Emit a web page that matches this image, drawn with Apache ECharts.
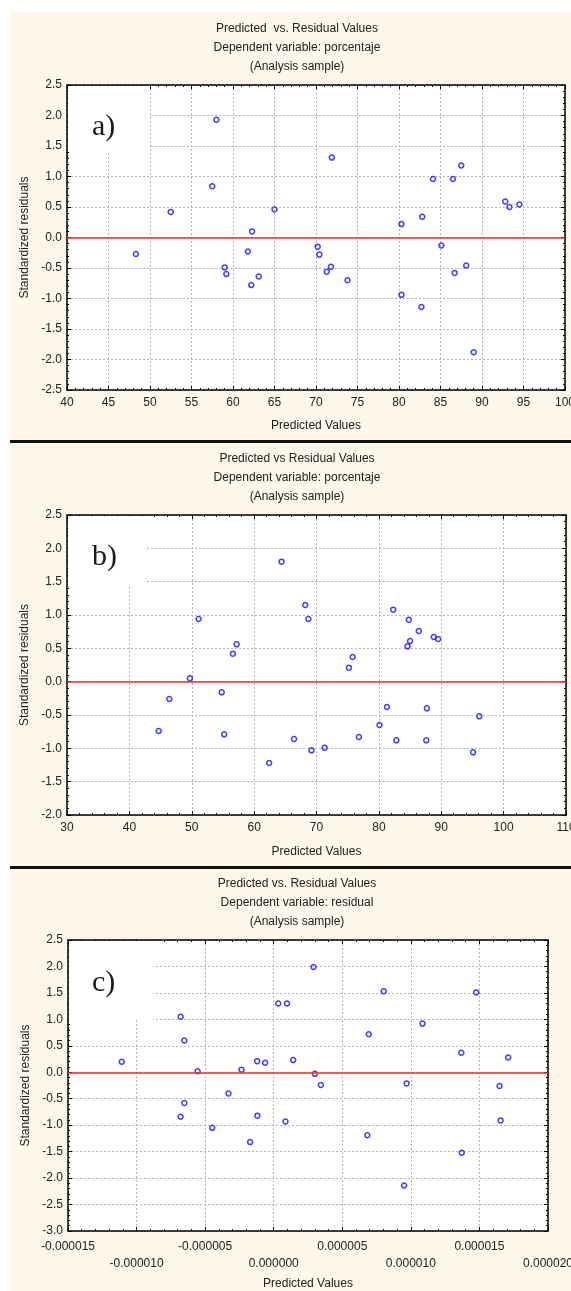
<!DOCTYPE html>
<html>
<head>
<meta charset="utf-8">
<script src="https://cdn.jsdelivr.net/npm/echarts@6/dist/echarts.min.js"></script>
<style>
html, body { margin: 0; padding: 0; background: #fff; }
#main { width: 571px; height: 1291px; }
</style>
</head>
<body>
<div id="main"></div>
<script>
// panel a) predicted vs standardized residuals
let predA = [48.3, 52.5, 57.5, 58.0, 59.0, 59.2, 61.8, 62.2, 62.3, 63.1, 65.0, 70.2, 70.4, 71.3, 71.8, 71.9, 73.8, 80.3, 80.3, 82.7, 82.8, 84.1, 85.1, 86.5, 86.7, 87.5, 88.1, 89.0, 92.8, 93.3, 94.5];
let residA = [-0.27, 0.42, 0.84, 1.93, -0.49, -0.60, -0.23, -0.78, 0.10, -0.64, 0.46, -0.15, -0.28, -0.56, -0.48, 1.31, -0.70, 0.22, -0.94, -1.14, 0.34, 0.96, -0.13, 0.96, -0.58, 1.18, -0.46, -1.88, 0.59, 0.50, 0.54];

// panel b)
let predB = [44.7, 46.4, 49.7, 51.1, 54.8, 55.2, 56.6, 57.2, 62.4, 64.4, 66.4, 68.2, 68.7, 69.2, 71.3, 75.2, 75.8, 76.8, 80.1, 81.3, 82.3, 82.8, 84.6, 84.8, 85.0, 86.4, 87.6, 87.7, 88.8, 89.5, 95.1, 96.1];
let residB = [-0.74, -0.26, 0.05, 0.94, -0.16, -0.79, 0.42, 0.56, -1.22, 1.80, -0.86, 1.15, 0.94, -1.03, -0.99, 0.21, 0.37, -0.83, -0.65, -0.38, 1.08, -0.88, 0.53, 0.93, 0.61, 0.76, -0.88, -0.40, 0.67, 0.64, -1.06, -0.52];

// panel c) predicted values in units of 1e-6
let predC = [-11.08, -6.79, -6.79, -6.52, -6.52, -5.55, -4.48, -3.30, -2.35, -1.72, -1.21, -1.19, -0.63, 0.33, 0.86, 0.97, 1.42, 2.90, 3.00, 3.44, 6.83, 6.93, 8.02, 9.51, 9.69, 10.85, 13.68, 13.71, 14.77, 16.47, 16.54, 17.10];
let residC = [0.20, 1.05, -0.84, 0.60, -0.58, 0.02, -1.05, -0.40, 0.05, -1.32, 0.21, -0.82, 0.18, 1.30, -0.93, 1.30, 0.23, 1.99, -0.03, -0.24, -1.19, 0.72, 1.53, -2.14, -0.21, 0.92, 0.37, -1.52, 1.51, -0.26, -0.91, 0.28];

let titleLines = [
    ['Predicted  vs. Residual Values', 'Dependent variable: porcentaje', '(Analysis sample)'],
    ['Predicted vs Residual Values', 'Dependent variable: porcentaje', '(Analysis sample)'],
    ['Predicted vs. Residual Values', 'Dependent variable: residual', '(Analysis sample)']
];
let tags = ['a)', 'b)', 'c)'];

const FONT = '"Liberation Sans", Arial, sans-serif';

const panels = [
    { x: predA, y: residA, left: 67, top: 85, width: 498, height: 305, xMin: 40, xMax: 100, xStep: 5, yMin: -2.5, yMax: 2.5, nameGap: 30, box: [150, 152], tagY: 127 },
    { x: predB, y: residB, left: 67, top: 515, width: 499, height: 300, xMin: 30, xMax: 110, xStep: 10, yMin: -2.0, yMax: 2.5, nameGap: 31, box: [147, 585], tagY: 557 },
    { x: predC, y: residC, left: 68, top: 940, width: 480, height: 291, xMin: -15, xMax: 20, xStep: 5, yMin: -3.0, yMax: 2.5, nameGap: 47, box: [153, 1020], tagY: 983, micro: true }
];

let grids = [], xAxes = [], yAxes = [], series = [], graphics = [];

graphics.push({ type: 'rect', z: -10, shape: { x: 10, y: 12, width: 561, height: 1279 }, style: { fill: '#fcf7ea' } });
graphics.push({ type: 'rect', z: 5, shape: { x: 10, y: 440, width: 561, height: 3 }, style: { fill: '#111' } });
graphics.push({ type: 'rect', z: 5, shape: { x: 10, y: 866, width: 561, height: 3 }, style: { fill: '#111' } });

const tickStyle = { color: '#000', width: 1 };

panels.forEach(function (p, i) {
    grids.push({
        left: p.left, top: p.top, width: p.width, height: p.height,
        show: true, backgroundColor: '#fff', borderWidth: 0,
        outerBoundsMode: 'none'
    });

    let xLabel = {
        fontFamily: FONT, fontSize: 12, color: '#222', margin: 7
    };
    if (p.micro) {
        xLabel.lineHeight = 17;
        xLabel.formatter = function (v, idx) {
            let s = (v / 1e6).toFixed(6);
            if (s === '-0.000000') s = '0.000000';
            return idx % 2 === 1 ? '\n' + s : s;
        };
    }

    // bottom axis
    xAxes.push({
        type: 'value', gridIndex: i, position: 'bottom',
        min: p.xMin, max: p.xMax, interval: p.xStep,
        name: 'Predicted Values', nameLocation: 'middle', nameGap: p.nameGap,
        nameMoveOverlap: false,
        nameTextStyle: { fontFamily: FONT, fontSize: 12, color: '#222' },
        axisLine: { show: true, onZero: false, lineStyle: { color: '#000', width: 1.5 } },
        axisTick: { show: true, inside: true, length: 4, lineStyle: tickStyle },
        minorTick: { show: true, splitNumber: 5, length: 2, lineStyle: tickStyle },
        axisLabel: xLabel,
        splitLine: { show: true, lineStyle: { type: [2, 2], color: '#b4b4b4' } }
    });
    // top frame
    xAxes.push({
        type: 'value', gridIndex: i, position: 'top',
        min: p.xMin, max: p.xMax, interval: p.xStep,
        axisLine: { show: true, onZero: false, lineStyle: { color: '#000', width: 1.5 } },
        axisTick: { show: true, inside: true, length: 4, lineStyle: tickStyle },
        minorTick: { show: true, splitNumber: 5, length: 2, lineStyle: tickStyle },
        axisLabel: { show: false },
        splitLine: { show: false }
    });

    // left axis
    yAxes.push({
        type: 'value', gridIndex: i, position: 'left',
        min: p.yMin, max: p.yMax, interval: 0.5,
        name: 'Standardized residuals', nameLocation: 'middle', nameGap: 36,
        nameMoveOverlap: false,
        nameTextStyle: { fontFamily: FONT, fontSize: 12, color: '#222' },
        axisLine: { show: true, onZero: false, lineStyle: { color: '#000', width: 1.5 } },
        axisTick: { show: true, inside: true, length: 4, lineStyle: tickStyle },
        minorTick: { show: true, splitNumber: 5, length: 2, lineStyle: tickStyle },
        axisLabel: {
            fontFamily: FONT, fontSize: 12, color: '#222', margin: 5,
            formatter: function (v) { return v.toFixed(1); }
        },
        splitLine: { show: true, lineStyle: { type: [2, 2], color: '#b4b4b4' } }
    });
    // right frame
    yAxes.push({
        type: 'value', gridIndex: i, position: 'right',
        min: p.yMin, max: p.yMax, interval: 0.5,
        axisLine: { show: true, onZero: false, lineStyle: { color: '#000', width: 1.5 } },
        axisTick: { show: true, inside: true, length: 4, lineStyle: tickStyle },
        minorTick: { show: true, splitNumber: 5, length: 2, lineStyle: tickStyle },
        axisLabel: { show: false },
        splitLine: { show: false }
    });

    let pts = p.x.map(function (v, k) { return [v, p.y[k]]; });
    series.push({
        type: 'scatter',
        xAxisIndex: i * 2, yAxisIndex: i * 2,
        data: pts,
        symbol: 'circle', symbolSize: 5, z: 3,
        itemStyle: { color: 'rgba(0,0,0,0)', borderColor: '#1010ff', borderWidth: 1.5 },
        markLine: {
            silent: true, symbol: 'none', animation: false,
            label: { show: false },
            lineStyle: { color: '#ff2a2a', width: 1.5, type: 'solid' },
            data: [{ yAxis: 0 }]
        }
    });

    // titles
    [-56, -37, -18].forEach(function (off, k) {
        graphics.push({
            type: 'text', x: 297, y: p.top + off, z: 5,
            style: {
                text: titleLines[i][k], align: 'center', verticalAlign: 'middle',
                font: '12px ' + FONT, fill: '#222'
            }
        });
    });

    // white box behind the panel tag
    graphics.push({
        type: 'rect', z: 1,
        shape: { x: p.left + 1, y: p.top + 1, width: p.box[0] - p.left - 1, height: p.box[1] - p.top - 1 },
        style: { fill: '#fff' }
    });
    graphics.push({
        type: 'text', x: 92, y: p.tagY, z: 5,
        style: {
            text: tags[i], align: 'left', verticalAlign: 'middle',
            font: '30px "Liberation Serif", "Times New Roman", serif', fill: '#1e1a14'
        }
    });
});

const chart = echarts.init(document.getElementById('main'));
chart.setOption({
    animation: false,
    backgroundColor: '#fff',
    grid: grids,
    xAxis: xAxes,
    yAxis: yAxes,
    series: series,
    graphic: graphics
});
</script>
</body>
</html>
